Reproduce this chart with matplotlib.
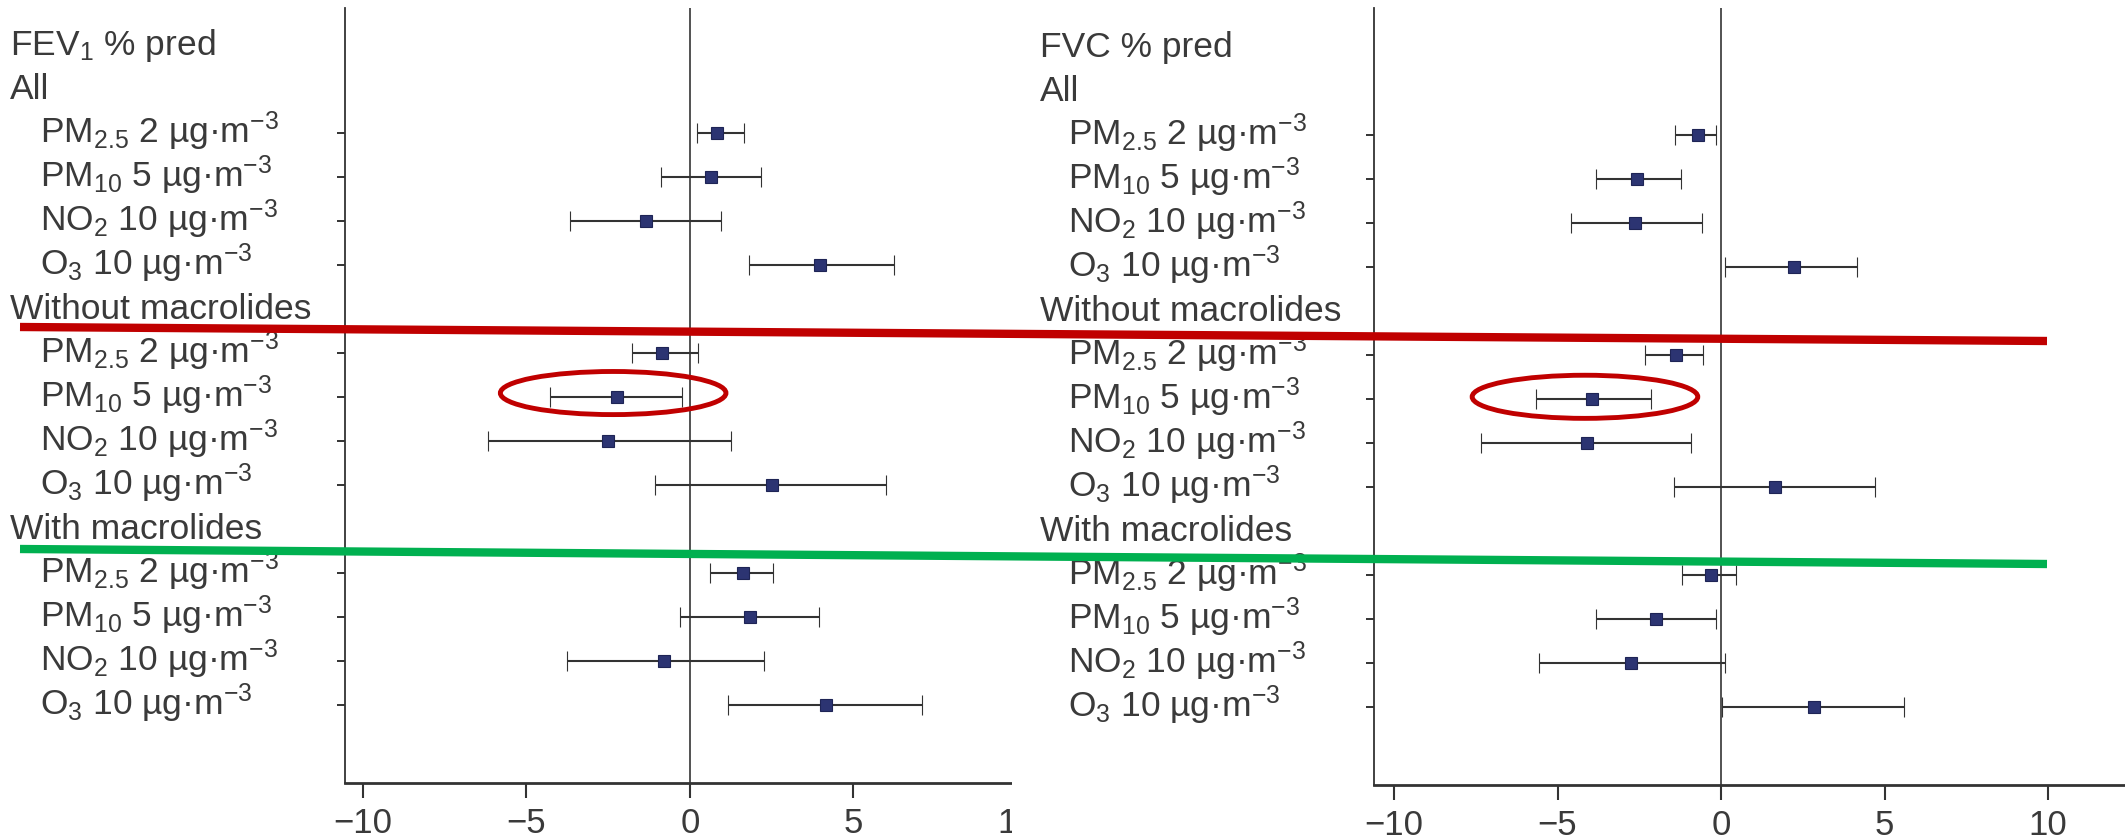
import numpy as np
import matplotlib
matplotlib.use("Agg")
import matplotlib.pyplot as plt
from matplotlib.patches import Ellipse, Rectangle
from matplotlib.lines import Line2D
from matplotlib.transforms import blended_transform_factory

plt.rcParams['font.family'] = ['Liberation Sans', 'DejaVu Sans']
plt.rcParams['mathtext.fontset'] = 'custom'
plt.rcParams['mathtext.rm'] = 'Liberation Sans'
plt.rcParams['mathtext.it'] = 'Liberation Sans:italic'
plt.rcParams['mathtext.bf'] = 'Liberation Sans:bold'
plt.rcParams['mathtext.sf'] = 'Liberation Sans'

# ---------------- data ----------------
pollutants = ["PM$_{2.5}$ 2 µg·m$^{-3}$", "PM$_{10}$ 5 µg·m$^{-3}$",
              "NO$_2$ 10 µg·m$^{-3}$", "O$_3$ 10 µg·m$^{-3}$"]
groups = ["All", "Without macrolides", "With macrolides"]
panel_titles = ["FEV$_1$ % pred", "FVC % pred"]
xticks = [-10, -5, 0, 5, 10]

# FEV1 % pred
fev_all_est = [0.82, 0.64, -1.34, 3.99]
fev_all_lo = [0.20, -0.90, -3.67, 1.80]
fev_all_hi = [1.66, 2.16, 0.96, 6.25]
fev_wo_est = [-0.86, -2.24, -2.50, 2.50]
fev_wo_lo = [-1.78, -4.27, -6.19, -1.06]
fev_wo_hi = [0.24, -0.24, 1.24, 6.00]
fev_w_est = [1.62, 1.84, -0.78, 4.17]
fev_w_lo = [0.62, -0.30, -3.75, 1.16]
fev_w_hi = [2.55, 3.93, 2.26, 7.10]

# FVC % pred
fvc_all_est = [-0.71, -2.56, -2.63, 2.24]
fvc_all_lo = [-1.40, -3.81, -4.59, 0.11]
fvc_all_hi = [-0.15, -1.23, -0.58, 4.16]
fvc_wo_est = [-1.38, -3.94, -4.09, 1.64]
fvc_wo_lo = [-2.33, -5.67, -7.33, -1.44]
fvc_wo_hi = [-0.54, -2.13, -0.93, 4.70]
fvc_w_est = [-0.30, -1.98, -2.74, 2.84]
fvc_w_lo = [-1.19, -3.81, -5.56, 0.04]
fvc_w_hi = [0.47, -0.15, 0.11, 5.60]

# ---------------- layout ----------------
W, H = 2125, 840
fig = plt.figure(figsize=(W / 100, H / 100), dpi=100)
fig.patch.set_facecolor('white')

TXT = '#3a3a3a'
LINE = '#333333'
MARK = '#2c3472'
FS = 25.5

group_slots = [1, 6, 11]          # header rows
row_slots = [[2, 3, 4, 5], [7, 8, 9, 10], [12, 13, 14, 15]]


def fy(py):
    return 1 - py / H


def make_panel(left_px, right_px, top_px, bottom_px, zero_px, slot0_px,
               est, lo, hi, title, head_x, item_x, zorder):
    unit = 32.7
    slot = 44.0
    ax = fig.add_axes([left_px / W, fy(bottom_px), (right_px - left_px) / W,
                       (bottom_px - top_px) / H])
    ax.set_zorder(zorder)
    ax.set_xlim((left_px - zero_px) / unit, (right_px - zero_px) / unit)
    ax.set_ylim((bottom_px - slot0_px) / slot, (top_px - slot0_px) / slot)
    for s in ['top', 'right']:
        ax.spines[s].set_visible(False)
    ax.spines['left'].set_color(LINE)
    ax.spines['left'].set_linewidth(1.3)
    ax.spines['bottom'].set_color(LINE)
    ax.spines['bottom'].set_linewidth(2.0)
    ax.axvline(0, color='#444444', lw=1.3, zorder=1)

    all_slots = []
    for g in range(3):
        ys = row_slots[g]
        all_slots += ys
        e = np.array(est[g]); l = np.array(lo[g]); h = np.array(hi[g])
        ax.errorbar(e, ys, xerr=[e - l, h - e], fmt='s', ms=8,
                    mfc=MARK, mec='#1e2455', mew=0.8,
                    ecolor=LINE, elinewidth=1.5, capsize=7.5, capthick=1.5,
                    zorder=3)
    ax.set_yticks(all_slots)
    ax.set_yticklabels([])
    ax.tick_params(axis='y', direction='out', length=6, width=1.4, color=LINE)
    ax.set_xticks(xticks)
    ax.tick_params(axis='x', direction='out', length=11, width=1.5, color=LINE,
                   labelsize=25, labelcolor=TXT, pad=6)

    tr = blended_transform_factory(fig.transFigure, ax.transData)
    off = 0.23
    ax.text(head_x / W, 0 + off, title, transform=tr, fontsize=FS,
            color=TXT, va='baseline', ha='left', clip_on=False)
    for g in range(3):
        ax.text(head_x / W, group_slots[g] + off, groups[g], transform=tr,
                fontsize=FS, color=TXT, va='baseline', ha='left', clip_on=False)
        for k, ys in enumerate(row_slots[g]):
            ax.text(item_x / W, ys + off, pollutants[k], transform=tr,
                    fontsize=FS, color=TXT, va='baseline', ha='left',
                    clip_on=False)
    return ax


fev_est = [fev_all_est, fev_wo_est, fev_w_est]
fev_lo = [fev_all_lo, fev_wo_lo, fev_w_lo]
fev_hi = [fev_all_hi, fev_wo_hi, fev_w_hi]
fvc_est = [fvc_all_est, fvc_wo_est, fvc_w_est]
fvc_lo = [fvc_all_lo, fvc_wo_lo, fvc_w_lo]
fvc_hi = [fvc_all_hi, fvc_wo_hi, fvc_w_hi]

ax1 = make_panel(345, 1100, 8, 783, 690, 45, fev_est, fev_lo, fev_hi,
                 panel_titles[0], 10, 40, 0)
ax2 = make_panel(1374, 2125, 8, 785, 1721, 47, fvc_est, fvc_lo, fvc_hi,
                 panel_titles[1], 1040, 1068, 2)

# white mask: the right panel image overlaps the end of the left x-axis
mask = Rectangle((1012 / W, 0), (1374 - 1012) / W, fy(770), transform=fig.transFigure,
                 facecolor='white', edgecolor='none', zorder=1)
fig.add_artist(mask)

# highlight ellipses around PM10 without macrolides
ax1.add_patch(Ellipse((-2.35, 7.91), width=6.9, height=0.98, fill=False,
                      edgecolor='#c00000', lw=3.5, zorder=5))
ax2.add_patch(Ellipse((-4.16, 7.95), width=6.9, height=0.98, fill=False,
                      edgecolor='#c00000', lw=3.5, zorder=5))

# coloured separator lines across both panels
fig.add_artist(Line2D([20 / W, 2047 / W], [fy(327), fy(341)], color='#c00000',
                      lw=6, solid_capstyle='butt', zorder=10))
fig.add_artist(Line2D([20 / W, 2047 / W], [fy(549), fy(564)], color='#00b050',
                      lw=6, solid_capstyle='butt', zorder=10))

fig.savefig('out.png', dpi=100, facecolor='white')
